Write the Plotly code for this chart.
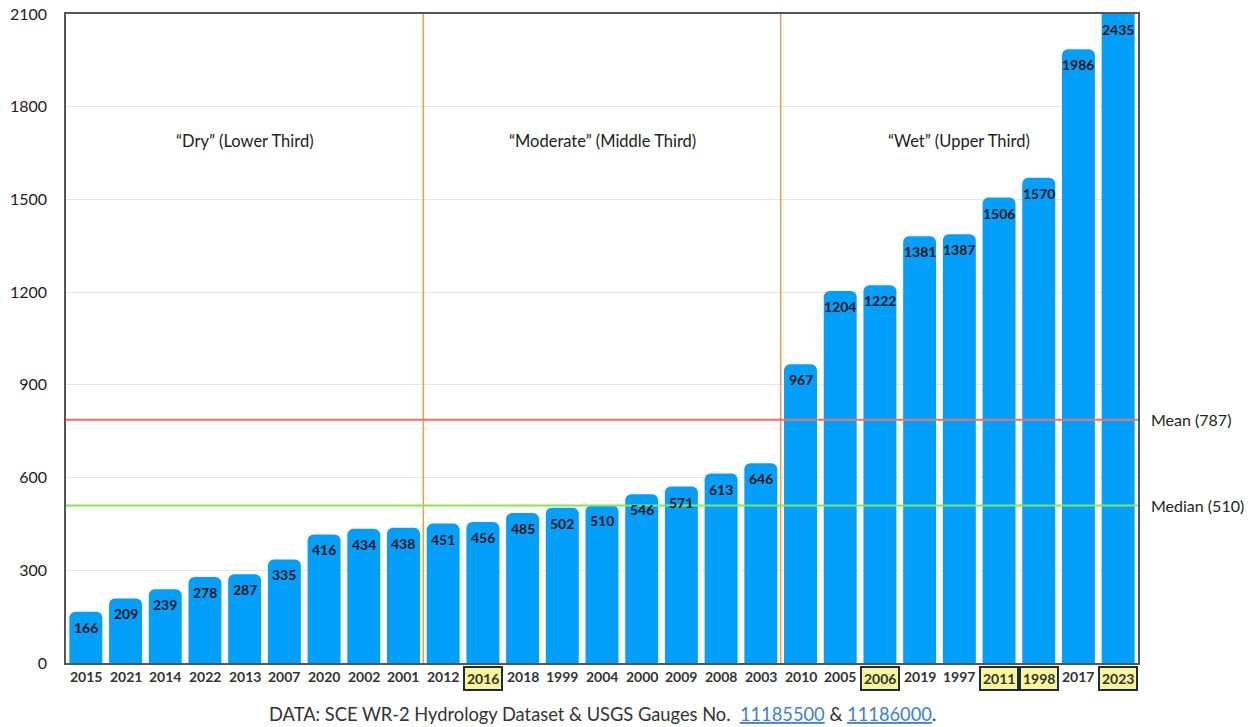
import plotly.graph_objects as go

# Water years ranked by annual runoff (low to high)
years = ["2015", "2021", "2014", "2022", "2013", "2007", "2020", "2002", "2001",
         "2012", "2016", "2018", "1999", "2004", "2000", "2009", "2008", "2003",
         "2010", "2005", "2006", "2019", "1997", "2011", "1998", "2017", "2023"]
runoff = [166, 209, 239, 278, 287, 335, 416, 434, 438,
          451, 456, 485, 502, 510, 546, 571, 613, 646,
          967, 1204, 1222, 1381, 1387, 1506, 1570, 1986, 2435]
highlighted = ["2016", "2006", "2011", "1998", "2023"]

mean_value = 787
median_value = 510
y_ticks = [0, 300, 600, 900, 1200, 1500, 1800, 2100]
y_max = 2100

# Tercile groups: label, first index, last index
groups = [("“Dry” (Lower Third)", 0, 8),
          ("“Moderate” (Middle Third)", 9, 17),
          ("“Wet” (Upper Third)", 18, 26)]
group_label_y = 1690

FONT = "Lato"
x_idx = list(range(len(years)))

fig = go.Figure()
fig.add_trace(go.Bar(
    x=x_idx, y=runoff,
    marker=dict(color="#03a0fb", cornerradius=6, line=dict(width=0)),
    hoverinfo="skip",
))

shapes = []
# Tercile dividers
for _, start, _end in groups[1:]:
    shapes.append(dict(type="line", xref="x", yref="paper",
                       x0=start - 0.5, x1=start - 0.5, y0=0, y1=1,
                       line=dict(color="#f59a45", width=1.5), layer="above"))
# Mean and median lines
shapes.append(dict(type="line", xref="paper", yref="y", x0=0, x1=1,
                   y0=mean_value, y1=mean_value,
                   line=dict(color="#f4705e", width=2), layer="above"))
shapes.append(dict(type="line", xref="paper", yref="y", x0=0, x1=1,
                   y0=median_value, y1=median_value,
                   line=dict(color="#86e64a", width=2), layer="above"))

annotations = []
# Value labels just inside the top of each bar (kept within the visible range)
for i, v in enumerate(runoff):
    annotations.append(dict(
        x=i, y=min(v, y_max), xref="x", yref="y", yanchor="top", yshift=-5,
        text=str(v), showarrow=False,
        font=dict(family=FONT, size=14, color="#111111", weight="bold"),
    ))

for label, start, end in groups:
    annotations.append(dict(x=(start + end) / 2, y=group_label_y, xref="x", yref="y",
                            text=label, showarrow=False,
                            font=dict(family=FONT, size=16.5, color="#222222")))

annotations.append(dict(x=1.01, y=mean_value, xref="paper", yref="y", xanchor="left",
                        text=f"Mean ({mean_value})", showarrow=False,
                        font=dict(family=FONT, size=16, color="#222222")))
annotations.append(dict(x=1.01, y=median_value, xref="paper", yref="y", xanchor="left",
                        text=f"Median ({median_value})", showarrow=False,
                        font=dict(family=FONT, size=16, color="#222222")))

# Category labels, with selected years boxed
for i, yr in enumerate(years):
    hl = yr in highlighted
    annotations.append(dict(
        x=i, y=0, xref="x", yref="paper", yanchor="top", yshift=-3,
        text=yr, showarrow=False,
        font=dict(family=FONT, size=14, color="#333333", weight="bold"),
        bgcolor="#f7f79a" if hl else "rgba(0,0,0,0)",
        bordercolor="#1e2b45" if hl else "rgba(0,0,0,0)",
        borderwidth=2 if hl else 0, borderpad=2,
    ))

link = "<span style='color:#3b7fd6'><u>{}</u></span>"
annotations.append(dict(
    x=0.5, y=0, xref="paper", yref="paper", yanchor="top", yshift=-38,
    text="DATA: SCE WR-2 Hydrology Dataset & USGS Gauges No.  "
         + link.format("11185500") + " & " + link.format("11186000") + ".",
    showarrow=False, font=dict(family=FONT, size=18.3, color="#333333"),
))

fig.update_layout(
    width=1257, height=727,
    margin=dict(l=66, r=119, t=14, b=64, autoexpand=False),
    plot_bgcolor="white", paper_bgcolor="white",
    bargap=0.17, showlegend=False,
    shapes=shapes, annotations=annotations,
    xaxis=dict(range=[-0.5, len(years) - 0.5], showticklabels=False,
               showgrid=False, zeroline=False, automargin=False,
               showline=True, linecolor="#555555", linewidth=1.5, mirror=True),
    yaxis=dict(range=[0, y_max], tickvals=y_ticks, showgrid=True,
               gridcolor="#e6e6e6", gridwidth=1, zeroline=False, automargin=False,
               showline=True, linecolor="#555555", linewidth=1.5, mirror=True,
               tickfont=dict(family=FONT, size=16, color="#222222"),
               ticklabelstandoff=14),
)

fig.write_html("out.html")
